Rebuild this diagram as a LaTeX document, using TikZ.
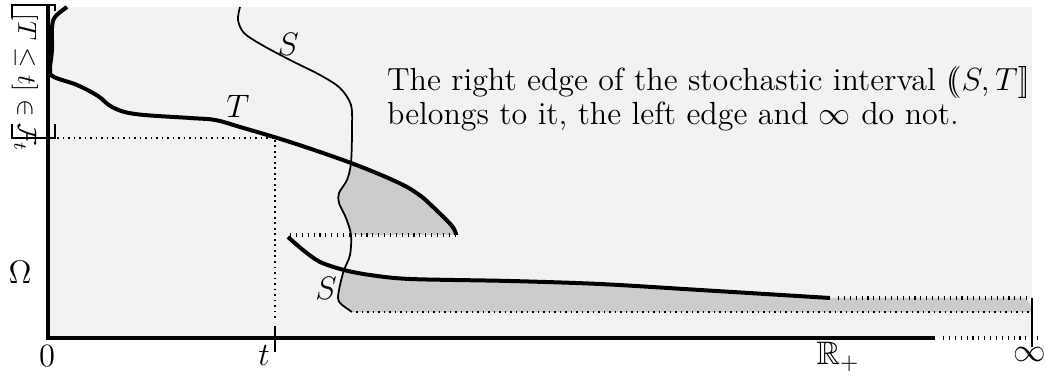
\RequirePackage{fix-cm}
\documentclass[tikz,border=0pt]{standalone}
\usepackage{amsmath,amssymb}
\usepackage{tikz}
\usetikzlibrary{positioning}

\begin{document}
\begin{tikzpicture}[
   x=0.4pt,y=-0.4pt,
   lbl/.style={font=\fontsize{13}{11.2}\selectfont,inner sep=1pt},
   axis/.style={line width=1.7pt},
   tpath/.style={line width=1.6pt},
   spath/.style={line width=0.7pt},
   jump/.style={line width=1.5pt,dash pattern=on 0.45pt off 1.9pt},
   gap/.style={line width=0.7pt,dash pattern=on 0.7pt off 1.5pt},
   shade/.style={fill=gray!40}
 ]
  \useasboundingbox (0,0) rectangle (1045,377);
  \fill[gray!10] (48,7) rectangle (1032,338);
  % shaded parts of the interval
  \fill[shade] plot[smooth] coordinates {(351,163) (397,182) (418,194) (432,206) (452,226) (456,234)}
    -- (456,235) -- (351,235)
    -- plot[smooth] coordinates {(351,235) (346,218) (339,203) (339,193) (347,180) (351,163)} -- cycle;
  \fill[shade] plot[smooth] coordinates {(344,270) (370,275) (410,279) (510,281) (600,284) (700,290) (830,298)}
    -- (1026,298) -- (1031,306) -- (1031,312) -- (352,312)
    -- plot[smooth] coordinates {(352,312) (341,304) (338,298) (340,285) (344,270)} -- cycle;
  % dotted edges
  \draw[gap] (57,138) -- (275,138) -- (275,320);
  \draw[jump] (290,235) -- (456,235);
  \draw[jump] (838,298) -- (1030,298);
  \draw[gap] (356,312) -- (1030,312);
  % axes
  \draw[axis] (48,5) -- (48,338) -- (935,338);
  \draw[jump] (943,338) -- (1040,338);
  \draw[line width=0.9pt] (275,326) -- (275,352);
  \draw[line width=0.9pt] (1032,298) -- (1032,347);
  \draw[line width=0.9pt] (12,18) |- (55,5) -- (55,11);
  \draw[line width=0.9pt] (12,124) |- (55,138) -- (55,124);
  % paths of S and T
  \draw[spath] plot[smooth] coordinates {(240,7) (238,20) (244,33) (262,45) (290,60) (320,75)
    (340,88) (351,105) (352,130) (351,163) (347,180) (339,193) (339,203) (346,218) (351,235)
    (350,255) (344,270) (340,285) (338,298) (341,304) (352,312)};
  \draw[tpath] plot[smooth,tension=0.6] coordinates {(67,7) (55,17) (52,28) (52,50) (50,70) (54,77)
    (77,85) (98,96) (112,107) (135,114) (190,118) (215,120) (240,127) (290,142) (351,163)
    (397,182) (418,194) (432,206) (452,226) (456,235)};
  \draw[tpath] plot[smooth] coordinates {(288,237) (303,250) (320,262) (344,270) (370,275)
    (410,279) (510,281) (600,284) (700,290) (830,298)};
  % labels
  \node[font=\fontsize{10.5}{12}\selectfont,inner sep=1pt,rotate=-90] (event) at (25,83) {$[T\le t]\in\mathcal{F}_t$};
  \node[lbl] (omega) at (20,272) {$\Omega$};
  \node[lbl] (zero) at (47,356) {$0$};
  \node[lbl] (tlab) at (264,356) {$t$};
  \node[lbl] (reals) at (838,357) {$\mathbb{R}_+$};
  \node[lbl] (infty) at (1030,355) {$\infty$};
  \node[lbl] (Stop) at (288,44) {$S$};
  \node[lbl] (Tlab) at (238,106) {$T$};
  \node[lbl] (Sbot) at (326,288) {$S$};
  \node[lbl,font=\fontsize{12.8}{11.7}\selectfont,align=left,anchor=north west] (note) at (384,64)
    {The right edge of the stochastic interval $(\mkern-5mu(S,T]\mkern-3mu]$\\
     belongs to it, the left edge and $\infty$ do not.};
 \end{tikzpicture}
\end{document}
